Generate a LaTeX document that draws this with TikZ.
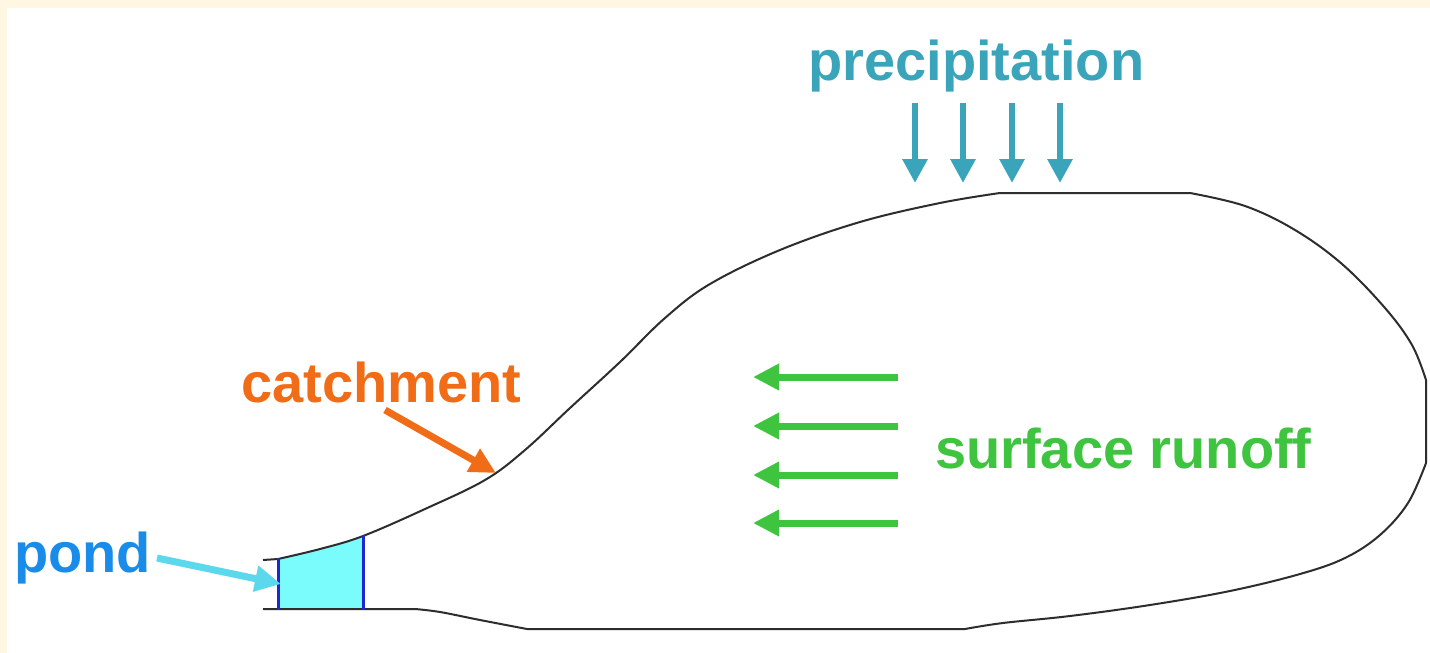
\documentclass[tikz,border=0pt]{standalone}
\usepackage{fontspec}
\setmainfont{Liberation Sans}
\usetikzlibrary{arrows.meta}
\definecolor{cream}{RGB}{255,247,226}
\definecolor{precipcol}{RGB}{58,164,186}
\definecolor{catchcol}{RGB}{240,108,22}
\definecolor{pondcol}{RGB}{24,140,232}
\definecolor{runoffcol}{RGB}{62,196,62}
\definecolor{pondarrow}{RGB}{92,216,236}
\definecolor{pondfill}{RGB}{122,252,252}
\definecolor{pondedge}{RGB}{30,40,210}
\definecolor{outline}{RGB}{45,45,45}
\tikzset{
  lbl/.style={anchor=base west, inner sep=0pt, font=\fontsize{56}{60}\selectfont\bfseries},
  fatarrow/.style={line width=7pt, -{Triangle[length=26pt,width=25pt]}},
  precarrow/.style={line width=6pt, precipcol, -{Triangle[length=24pt,width=24pt]}},
}
\begin{document}
\begin{tikzpicture}[x=1pt,y=-1pt]
\useasboundingbox (0,0) rectangle (1430,653);
\fill[cream] (0,0) rectangle (1430,653);
\fill[white] (7,8) rectangle (1430,653);

% pond
\fill[pondfill] plot[smooth] coordinates {(278,559) (320,549) (363,536)} -- (363,609) -- (278,609) -- cycle;

% outline of catchment
\draw[outline, line width=2pt, line join=round]
  (263,560) -- (278,559)
  plot[smooth, tension=0.6] coordinates {(278,559) (320,549) (363,536) (425,509) (485,480) (525,450) (570,408) (620,362) (665,318) (710,284) (780,250) (860,222) (940,203) (1000,193)}
  -- (1190,193)
  plot[smooth, tension=0.6] coordinates {(1190,193) (1245,206) (1295,230) (1342,264) (1385,308) (1412,345) (1426,380)}
  -- (1426,463)
  plot[smooth, tension=0.6] coordinates {(1426,463) (1408,503) (1380,535) (1345,558) (1300,574) (1230,591) (1150,605) (1070,616) (1003,623) (965,629)}
  -- (527,629)
  plot[smooth, tension=0.6] coordinates {(527,629) (480,620) (440,612) (415,609)}
  -- (263,609);

% pond edges
\draw[pondedge, line width=3pt] (278,558) -- (278,610);
\draw[pondedge, line width=3pt] (363,535) -- (363,610);

% labels
\node[lbl, text=precipcol] (precip) at (808,80) {precipitation};
\node[lbl, text=catchcol] (catch) at (241,402) {catchment};
\node[lbl, text=pondcol] (pond) at (14,572) {pond};
\node[lbl, text=runoffcol] (runoff) at (935,468) {surface runoff};

% precipitation arrows
\foreach \i/\x in {1/915,2/963,3/1012,4/1060}{
  \coordinate (ps\i) at (\x,103);
  \coordinate (pe\i) at (\x,183);
  \draw[precarrow] (ps\i) -- (pe\i);
}

% runoff arrows
\foreach \i/\y in {1/377,2/426,3/475,4/523}{
  \coordinate (rs\i) at (898,\y);
  \coordinate (re\i) at (753,\y);
  \draw[fatarrow, runoffcol] (rs\i) -- (re\i);
}

% catchment arrow
\coordinate (cs) at (385,410);
\coordinate (ce) at (496,473);
\draw[fatarrow, catchcol] (cs) -- (ce);

% pond arrow
\coordinate (pds) at (157,558);
\coordinate (pde) at (281,584);
\draw[fatarrow, pondarrow] (pds) -- (pde);
\end{tikzpicture}
\end{document}
